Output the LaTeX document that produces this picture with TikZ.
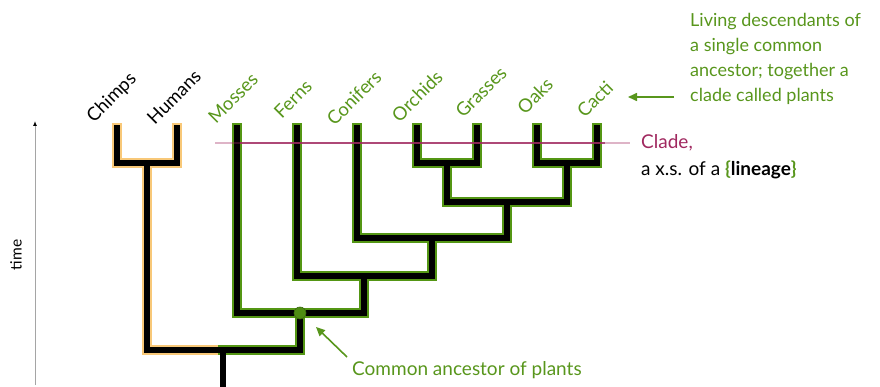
\documentclass[tikz,border=0pt]{standalone}
\usepackage{fontspec}
\setmainfont{Lato}
\usetikzlibrary{arrows.meta}
\definecolor{pgreen}{RGB}{88,150,28}
\definecolor{ogreen}{RGB}{84,150,20}
\definecolor{dotgreen}{RGB}{78,140,18}
\definecolor{lorange}{RGB}{248,200,120}
\definecolor{cladec}{RGB}{160,40,95}
\definecolor{axisgray}{RGB}{165,165,165}
\tikzset{
  outlineP/.style={draw=ogreen, line width=9.5pt, line cap=rect},
  outlineC/.style={draw=lorange, line width=9.5pt, line cap=rect},
  branch/.style={draw=black, line width=6.5pt, line cap=rect},
  leaflab/.style={rotate=45, inner sep=0pt, font=\fontsize{18.5}{20}\selectfont},
  greentxt/.style={text=pgreen, inner sep=0pt, font=\fontsize{18}{25}\selectfont},
  blacktxt/.style={text=black, inner sep=0pt, font=\fontsize{19}{22}\selectfont},
  garrow/.style={draw=pgreen, line width=1.6pt, -{Triangle[length=9pt,width=8pt]}},
}
\begin{document}
\begin{tikzpicture}[x=1pt,y=-1pt]
\useasboundingbox (0,0) rectangle (880,387);
% tree coordinates
\coordinate (tC) at (117,128);
\coordinate (tH) at (177,128);
\coordinate (tM) at (237,128);
\coordinate (tF) at (297,128);
\coordinate (tCo) at (357,128);
\coordinate (tOr) at (417,128);
\coordinate (tG) at (477,128);
\coordinate (tOa) at (537,128);
\coordinate (tCa) at (597,128);
\coordinate (jCH) at (147,163);
\coordinate (jOG) at (447,163);
\coordinate (jOC) at (567,163);
\coordinate (jAng) at (507,202);
\coordinate (jCon) at (432,238);
\coordinate (jFern) at (364,276);
\coordinate (jPl) at (300,313);
\coordinate (jRoot) at (223,350);
\coordinate (bot) at (223,392);
% magenta clade line
\coordinate (cl1) at (215,143);
\coordinate (cl1b) at (240,143);
\coordinate (cl2b) at (605,143);
\coordinate (cl2) at (630,143);
% outlines
\draw[outlineC] (tC) |- (jCH) -| (tH);
\draw[outlineC] (jCH) |- (jRoot);
\draw[outlineP] (jPl) |- (jRoot);
\draw[outlineP] (tOr) |- (jOG) -| (tG);
\draw[outlineP] (tOa) |- (jOC) -| (tCa);
\draw[outlineP] (jOG) |- (jAng) -| (jOC);
\draw[outlineP] (tCo) |- (jCon) -| (jAng);
\draw[outlineP] (tF) |- (jFern) -| (jCon);
\draw[outlineP] (tM) |- (jPl) -| (jFern);
% black branches
\draw[branch] (tC) |- (jCH) -| (tH);
\draw[branch] (jCH) |- (jRoot);
\draw[branch] (jPl) |- (jRoot);
\draw[branch] (tOr) |- (jOG) -| (tG);
\draw[branch] (tOa) |- (jOC) -| (tCa);
\draw[branch] (jOG) |- (jAng) -| (jOC);
\draw[branch] (tCo) |- (jCon) -| (jAng);
\draw[branch] (tF) |- (jFern) -| (jCon);
\draw[branch] (tM) |- (jPl) -| (jFern);
\draw[draw=black, line width=6.5pt] (jRoot) -- (bot);
% clade line
\draw[cladec, line width=1.5pt, opacity=0.85] (cl1b) -- (cl2b);
\draw[cladec, line width=1.5pt, opacity=0.35] (cl1) -- (cl1b);
\draw[cladec, line width=1.5pt, opacity=0.35] (cl2b) -- (cl2);
% ancestor dot
\node[circle, fill=dotgreen, draw=ogreen!70!black, line width=0.6pt, minimum size=12pt, inner sep=0pt] (anc) at (jPl) {};
% leaf labels
\node[leaflab, text=black] (lC) at (112,98) {Chimps};
\node[leaflab, text=black] (lH) at (174,97) {Humans};
\node[leaflab, text=pgreen] (lM) at (233,98) {Mosses};
\node[leaflab, text=pgreen] (lF) at (293,99) {Ferns};
\node[leaflab, text=pgreen] (lCo) at (354,98) {Conifers};
\node[leaflab, text=pgreen] (lOr) at (417,96) {Orchids};
\node[leaflab, text=pgreen] (lG) at (481,92) {Grasses};
\node[leaflab, text=pgreen] (lOa) at (535,96) {Oaks};
\node[leaflab, text=pgreen] (lCa) at (595,99) {Cacti};
% time axis
\coordinate (ax1) at (35,385);
\coordinate (ax2) at (35,121);
\draw[axisgray, line width=1pt, -{Latex[length=5pt,width=4pt,black]}] (ax1) -- (ax2);
\node[rotate=90, inner sep=0pt, font=\fontsize{15.5}{18}\selectfont] (time) at (16,255) {time};
% right texts
\node[greentxt, anchor=base west] (d1) at (690,27) {Living descendants of};
\node[greentxt, anchor=base west] (d2) at (690,52) {a single common};
\node[greentxt, anchor=base west] (d3) at (690,77) {ancestor; together a};
\node[greentxt, anchor=base west] (d4) at (690,102) {clade called plants};
\coordinate (a1s) at (674,97);
\coordinate (a1e) at (628,97);
\draw[garrow] (a1s) -- (a1e);
\node[inner sep=0pt, anchor=base west, text=cladec, font=\fontsize{19}{22}\selectfont] (clade) at (641,149) {Clade,};
\node[blacktxt, anchor=base west] (xs) at (641,176) {a x.s. of a \textcolor{pgreen}{\textbf{\{}}\textbf{lineage}\textcolor{pgreen}{\textbf{\}}}};
% common ancestor
\node[greentxt, anchor=base west, font=\fontsize{19}{25}\selectfont] (cap) at (352,375) {Common ancestor of plants};
\coordinate (a2s) at (347,357);
\coordinate (a2e) at (316,327);
\draw[garrow] (a2s) -- (a2e);
\end{tikzpicture}
\end{document}
